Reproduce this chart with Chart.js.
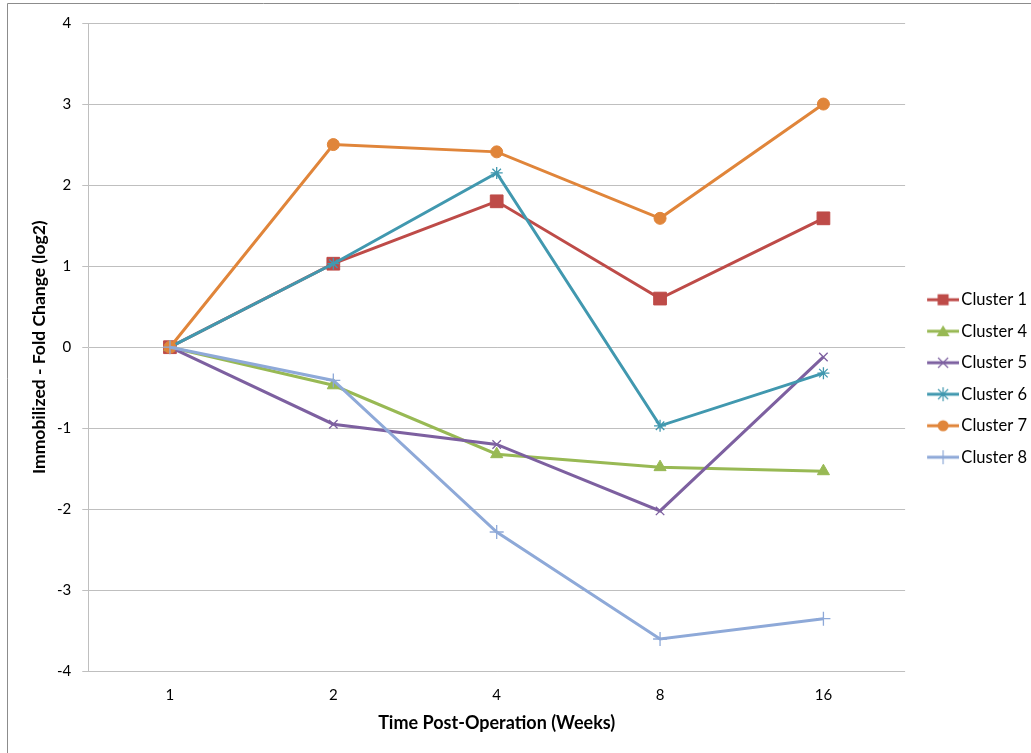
<!DOCTYPE html>
<html>
<head>
<meta charset="utf-8">
<script src="https://cdn.jsdelivr.net/npm/chart.js@4"></script>
<style>
html,body{margin:0;padding:0;background:#fff;}
#wrap{position:relative;width:1031px;height:753px;}
canvas{display:block;}
</style>
</head>
<body>
<div id="wrap"><canvas id="c" width="1031" height="753"></canvas></div>
<script>
const categories = ['1', '2', '4', '8', '16'];
const cluster1 = [0, 1.03, 1.80, 0.60, 1.59];
const cluster4 = [0, -0.47, -1.32, -1.48, -1.53];
const cluster5 = [0, -0.95, -1.20, -2.02, -0.12];
const cluster6 = [0, 1.03, 2.15, -0.97, -0.32];
const cluster7 = [0, 2.50, 2.41, 1.59, 3.00];
const cluster8 = [0, -0.41, -2.28, -3.60, -3.35];
const seriesNames = ['Cluster 1', 'Cluster 4', 'Cluster 5', 'Cluster 6', 'Cluster 7', 'Cluster 8'];
const yTicks = [-4, -3, -2, -1, 0, 1, 2, 3, 4];

const styles = [
  {color: '#BE4B48', point: 'rect', r: 9, bw: 1},
  {color: '#98B954', point: 'triangle', r: 7, bw: 1},
  {color: '#7D60A0', point: 'crossRot', r: 6, bw: 1.3},
  {color: '#4198AF', point: 'star', r: 6, bw: 1.3},
  {color: '#E0853A', point: 'circle', r: 6, bw: 1},
  {color: '#8EA9D8', point: 'cross', r: 7, bw: 1.3}
];
const values = [cluster1, cluster4, cluster5, cluster6, cluster7, cluster8];

function legendIcon(st) {
  const W = 45, H = 16, x0 = 13, cx = 29, cy = 8;
  const cv = document.createElement('canvas');
  cv.width = W; cv.height = H;
  const ctx = cv.getContext('2d');
  ctx.strokeStyle = st.color; ctx.fillStyle = st.color; ctx.lineWidth = 3;
  ctx.beginPath(); ctx.moveTo(x0, cy); ctx.lineTo(W, cy); ctx.stroke();
  ctx.lineWidth = 1.2;
  ctx.beginPath();
  switch (st.point) {
    case 'rect': ctx.fillRect(cx - 5.5, cy - 5.5, 11, 11); break;
    case 'triangle':
      ctx.moveTo(cx, cy - 6); ctx.lineTo(cx + 6.5, cy + 5); ctx.lineTo(cx - 6.5, cy + 5); ctx.closePath(); ctx.fill(); break;
    case 'circle': ctx.arc(cx, cy, 5.5, 0, Math.PI * 2); ctx.fill(); break;
    case 'crossRot':
      ctx.moveTo(cx - 5, cy - 5); ctx.lineTo(cx + 5, cy + 5); ctx.moveTo(cx + 5, cy - 5); ctx.lineTo(cx - 5, cy + 5); ctx.stroke(); break;
    case 'star':
      ctx.moveTo(cx - 5, cy - 5); ctx.lineTo(cx + 5, cy + 5); ctx.moveTo(cx + 5, cy - 5); ctx.lineTo(cx - 5, cy + 5);
      ctx.moveTo(cx, cy - 7); ctx.lineTo(cx, cy + 7); ctx.stroke(); break;
    case 'cross':
      ctx.moveTo(cx, cy - 7); ctx.lineTo(cx, cy + 7); ctx.stroke(); break;
  }
  return cv;
}

const datasets = values.map((v, i) => ({
  label: seriesNames[i],
  data: v,
  borderColor: styles[i].color,
  backgroundColor: styles[i].color,
  borderWidth: 3,
  pointStyle: styles[i].point,
  pointRadius: styles[i].r,
  pointHoverRadius: styles[i].r,
  pointBorderWidth: styles[i].bw,
  pointBackgroundColor: styles[i].color,
  pointBorderColor: styles[i].color,
  tension: 0,
  order: 10 - i
}));

const borderPlugin = {
  id: 'outerBorder',
  afterDraw(chart) {
    const ctx = chart.ctx;
    ctx.save();
    ctx.strokeStyle = '#8C8C8C';
    ctx.lineWidth = 1;
    ctx.beginPath();
    ctx.moveTo(7.5, 753); ctx.lineTo(7.5, 3.5); ctx.lineTo(1031, 3.5);
    ctx.stroke();
    ctx.restore();
  }
};

const FONT = 'Lato, "Open Sans", sans-serif';

new Chart(document.getElementById('c'), {
  type: 'line',
  data: {labels: categories, datasets},
  plugins: [borderPlugin],
  options: {
    responsive: false,
    animation: false,
    layout: {padding: {top: 23, left: 29, right: -6, bottom: 19}},
    plugins: {
      tooltip: {enabled: false},
      legend: {
        position: 'right',
        labels: {
          usePointStyle: true,
          pointStyleWidth: 33,
          font: {family: FONT, size: 16.5},
          color: '#000',
          padding: 15,
          generateLabels(chart) {
            return chart.data.datasets.map((ds, i) => ({
              text: ds.label,
              pointStyle: legendIcon(styles[i]),
              fillStyle: styles[i].color,
              strokeStyle: styles[i].color,
              lineWidth: 0,
              hidden: false,
              datasetIndex: i
            }));
          }
        }
      }
    },
    scales: {
      x: {
        offset: true,
        grid: {display: false, drawTicks: false},
        border: {display: false},
        ticks: {color: '#000', padding: 15, font: {family: FONT, size: 15}},
        title: {display: true, text: 'Time Post-Operation (Weeks)', color: '#000', font: {family: FONT, size: 18, weight: 'bold'}, padding: {top: -7, bottom: 0}}
      },
      y: {
        min: -4, max: 4,
        afterBuildTicks(axis) { axis.ticks = yTicks.map(v => ({value: v})); },
        grid: {color: '#BFBFBF', lineWidth: 1, tickLength: 6, drawTicks: true},
        border: {color: '#BFBFBF'},
        ticks: {color: '#000', padding: 11, font: {family: FONT, size: 15}},
        title: {display: true, text: 'Immobilized - Fold Change (log2)', color: '#000', font: {family: FONT, size: 17.5, weight: 'bold'}, padding: {top: 0, bottom: -4}}
      }
    }
  }
});
</script>
</body>
</html>
